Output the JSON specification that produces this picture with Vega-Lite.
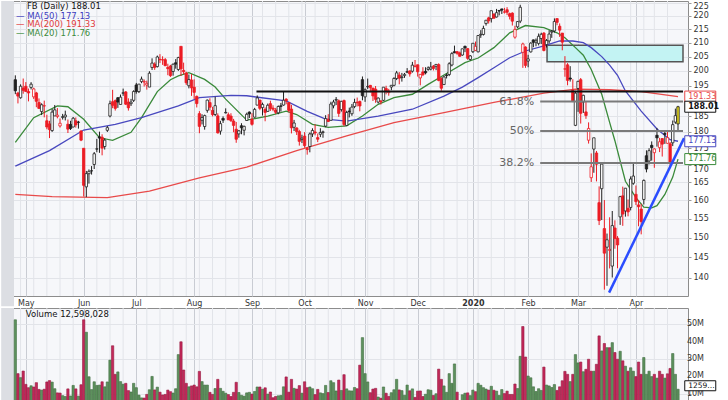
{
"$schema": "https://vega.github.io/schema/vega-lite/v6.json",
"padding": {"left": 0, "top": 0, "right": 0, "bottom": 0},
"background": "#ffffff",
"spacing": -2,
"config": {
  "font": "DejaVu Sans",
  "view": {"stroke": "#8c8c8c", "fill": "#f6f7fa"},
  "axis": {"labelFont": "DejaVu Sans", "labelFontSize": 8, "labelColor": "#333333", "title": null}
},
"datasets": {
"px": [
{"t":-4,"o":196.98,"h":198.48,"l":192.12,"c":193.26,"v":52.7},
{"t":-3,"o":192.5,"h":192.9,"l":189.09,"c":191.49,"v":21.6},
{"t":-2,"o":190.95,"h":195.41,"l":190.65,"c":194.78,"v":19.3},
{"t":-1,"o":194.19,"h":197.39,"l":192.28,"c":193.4,"v":23.1},
{"t":0,"o":194.78,"h":196.18,"l":193.01,"c":193.03,"v":15.4},
{"t":1,"o":193.0,"h":194.0,"l":189.75,"c":192.53,"v":13.5},
{"t":2,"o":194.38,"h":196.16,"l":193.71,"c":195.47,"v":14.6},
{"t":3,"o":191.24,"h":194.28,"l":190.55,"c":193.88,"v":13.9},
{"t":4,"o":192.54,"h":192.9,"l":187.85,"c":189.77,"v":16.4},
{"t":5,"o":189.39,"h":190.72,"l":187.26,"c":187.47,"v":12.5},
{"t":6,"o":186.47,"h":189.12,"l":185.32,"c":188.65,"v":12.1},
{"t":7,"o":188.25,"h":190.0,"l":184.59,"c":188.34,"v":12.6},
{"t":8,"o":183.5,"h":185.43,"l":180.84,"c":181.54,"v":16.8},
{"t":9,"o":182.52,"h":183.49,"l":178.1,"c":180.73,"v":17.6},
{"t":10,"o":180.42,"h":187.28,"l":180.02,"c":186.27,"v":16.7},
{"t":11,"o":185.05,"h":188.58,"l":185.05,"c":186.99,"v":12.9},
{"t":12,"o":184.84,"h":187.58,"l":184.28,"c":185.3,"v":10.5},
{"t":13,"o":181.88,"h":184.23,"l":181.37,"c":182.72,"v":10.4},
{"t":14,"o":184.57,"h":185.7,"l":183.89,"c":184.82,"v":8.9},
{"t":15,"o":184.73,"h":186.74,"l":183.61,"c":185.32,"v":8.4},
{"t":16,"o":182.42,"h":183.9,"l":179.67,"c":180.87,"v":12.8},
{"t":17,"o":182.33,"h":183.5,"l":180.6,"c":181.06,"v":8.7},
{"t":18,"o":181.54,"h":184.71,"l":181.45,"c":184.31,"v":14.8},
{"t":19,"o":183.5,"h":184.56,"l":181.35,"c":182.19,"v":12.8},
{"t":20,"o":183.08,"h":183.48,"l":181.04,"c":183.01,"v":8.6},
{"t":21,"o":180.28,"h":180.54,"l":177.16,"c":177.47,"v":15.2},
{"t":22,"o":175.0,"h":175.04,"l":161.01,"c":164.15,"v":52.7},
{"t":23,"o":163.71,"h":168.28,"l":160.84,"c":167.5,"v":45.5},
{"t":24,"o":167.48,"h":168.72,"l":164.63,"c":168.17,"v":19.8},
{"t":25,"o":168.3,"h":169.7,"l":167.23,"c":168.33,"v":12.4},
{"t":26,"o":170.17,"h":173.87,"l":168.84,"c":173.35,"v":16.9},
{"t":27,"o":174.75,"h":177.86,"l":173.8,"c":174.82,"v":14.8},
{"t":28,"o":178.48,"h":180.09,"l":173.62,"c":178.1,"v":15.0},
{"t":29,"o":178.38,"h":179.27,"l":172.88,"c":175.04,"v":16.9},
{"t":30,"o":175.53,"h":178.03,"l":174.61,"c":177.47,"v":14.0},
{"t":31,"o":180.51,"h":181.84,"l":180.0,"c":181.33,"v":16.8},
{"t":32,"o":185.01,"h":190.0,"l":184.59,"c":189.01,"v":29.4},
{"t":33,"o":189.64,"h":193.59,"l":187.54,"c":188.47,"v":37.7},
{"t":34,"o":190.0,"h":190.38,"l":186.76,"c":187.48,"v":21.2},
{"t":35,"o":190.95,"h":191.16,"l":187.64,"c":189.53,"v":22.6},
{"t":36,"o":188.75,"h":192.0,"l":188.75,"c":191.14,"v":17.0},
{"t":37,"o":192.42,"h":193.98,"l":191.57,"c":192.6,"v":15.5},
{"t":38,"o":192.88,"h":193.14,"l":188.56,"c":188.84,"v":16.0},
{"t":39,"o":189.54,"h":190.76,"l":186.76,"c":187.66,"v":11.8},
{"t":40,"o":189.0,"h":190.57,"l":188.25,"c":189.5,"v":11.0},
{"t":41,"o":190.1,"h":193.44,"l":189.55,"c":193.0,"v":16.0},
{"t":42,"o":195.21,"h":195.9,"l":192.29,"c":193.0,"v":13.5},
{"t":43,"o":193.0,"h":195.5,"l":192.5,"c":195.5,"v":9.2},
{"t":44,"o":196.35,"h":198.05,"l":195.81,"c":197.2,"v":7.6},
{"t":45,"o":196.18,"h":197.07,"l":194.68,"c":196.4,"v":7.5},
{"t":46,"o":195.19,"h":196.67,"l":193.64,"c":195.76,"v":9.6},
{"t":47,"o":194.51,"h":199.89,"l":194.49,"c":199.21,"v":12.3},
{"t":48,"o":201.2,"h":204.39,"l":200.33,"c":202.73,"v":20.0},
{"t":49,"o":202.36,"h":203.0,"l":200.37,"c":201.23,"v":12.2},
{"t":50,"o":201.5,"h":205.37,"l":201.18,"c":204.87,"v":13.8},
{"t":51,"o":204.05,"h":205.87,"l":202.72,"c":203.91,"v":10.9},
{"t":52,"o":203.88,"h":205.11,"l":202.1,"c":203.84,"v":9.3},
{"t":53,"o":203.92,"h":204.49,"l":201.68,"c":201.8,"v":9.6},
{"t":54,"o":201.19,"h":202.5,"l":198.53,"c":200.78,"v":12.1},
{"t":55,"o":201.7,"h":202.1,"l":197.94,"c":198.36,"v":11.2},
{"t":56,"o":199.8,"h":202.59,"l":198.37,"c":202.32,"v":10.4},
{"t":57,"o":202.84,"h":204.13,"l":200.78,"c":202.36,"v":12.9},
{"t":58,"o":200.5,"h":204.94,"l":200.01,"c":204.66,"v":32.6},
{"t":59,"o":208.67,"h":208.7,"l":198.26,"c":200.71,"v":40.0},
{"t":60,"o":200.19,"h":202.88,"l":198.87,"c":199.75,"v":23.7},
{"t":61,"o":199.29,"h":199.72,"l":195.22,"c":195.94,"v":16.0},
{"t":62,"o":194.95,"h":198.76,"l":194.06,"c":197.04,"v":14.0},
{"t":63,"o":196.89,"h":198.88,"l":191.56,"c":194.23,"v":14.5},
{"t":64,"o":194.46,"h":197.11,"l":190.54,"c":192.73,"v":15.0},
{"t":65,"o":191.41,"h":191.66,"l":187.78,"c":189.02,"v":14.0},
{"t":66,"o":185.78,"h":186.59,"l":179.6,"c":181.74,"v":22.9},
{"t":67,"o":183.69,"h":185.59,"l":182.34,"c":184.51,"v":17.0},
{"t":68,"o":181.69,"h":185.46,"l":180.71,"c":185.15,"v":15.0},
{"t":69,"o":186.83,"h":190.36,"l":186.08,"c":190.16,"v":15.0},
{"t":70,"o":189.36,"h":190.78,"l":186.8,"c":187.85,"v":10.8},
{"t":71,"o":186.79,"h":187.97,"l":184.89,"c":185.46,"v":9.6},
{"t":72,"o":185.5,"h":191.28,"l":185.0,"c":188.36,"v":13.0},
{"t":73,"o":185.06,"h":185.87,"l":179.51,"c":179.71,"v":18.3},
{"t":74,"o":180.25,"h":183.5,"l":179.16,"c":182.59,"v":13.1},
{"t":75,"o":184.26,"h":184.91,"l":182.82,"c":183.7,"v":11.4},
{"t":76,"o":186.0,"h":187.49,"l":185.87,"c":186.17,"v":10.3},
{"t":77,"o":185.42,"h":186.13,"l":183.81,"c":183.81,"v":9.5},
{"t":78,"o":185.0,"h":185.9,"l":183.14,"c":183.55,"v":8.4},
{"t":79,"o":183.43,"h":184.11,"l":179.91,"c":182.04,"v":10.8},
{"t":80,"o":180.84,"h":183.13,"l":176.66,"c":177.75,"v":16.6},
{"t":81,"o":179.4,"h":180.58,"l":178.22,"c":180.36,"v":10.7},
{"t":82,"o":181.94,"h":182.73,"l":179.28,"c":181.3,"v":9.1},
{"t":83,"o":180.53,"h":181.94,"l":178.94,"c":181.76,"v":8.6},
{"t":84,"o":183.6,"h":186.08,"l":183.47,"c":185.57,"v":10.5},
{"t":85,"o":186.29,"h":186.49,"l":184.39,"c":185.67,"v":10.8},
{"t":86,"o":184.0,"h":185.93,"l":181.97,"c":182.39,"v":9.8},
{"t":87,"o":184.65,"h":187.64,"l":184.52,"c":187.14,"v":11.3},
{"t":88,"o":188.53,"h":191.7,"l":188.48,"c":190.9,"v":13.9},
{"t":89,"o":190.21,"h":190.21,"l":186.89,"c":187.49,"v":13.9},
{"t":90,"o":187.72,"h":189.34,"l":185.17,"c":188.76,"v":12.6},
{"t":91,"o":187.16,"h":187.8,"l":183.35,"c":186.17,"v":13.4},
{"t":92,"o":186.51,"h":189.04,"l":186.34,"c":188.49,"v":9.8},
{"t":93,"o":189.0,"h":189.97,"l":186.65,"c":187.47,"v":11.0},
{"t":94,"o":187.56,"h":188.48,"l":186.56,"c":187.19,"v":7.7},
{"t":95,"o":186.93,"h":187.6,"l":185.63,"c":186.22,"v":8.4},
{"t":96,"o":186.05,"h":188.42,"l":185.58,"c":188.08,"v":8.8},
{"t":97,"o":188.3,"h":189.24,"l":186.44,"c":188.14,"v":9.0},
{"t":98,"o":188.55,"h":192.95,"l":188.35,"c":190.14,"v":14.0},
{"t":99,"o":190.48,"h":190.79,"l":188.81,"c":189.93,"v":19.7},
{"t":100,"o":189.35,"h":189.43,"l":186.17,"c":186.82,"v":10.9},
{"t":101,"o":187.25,"h":188.61,"l":179.54,"c":181.28,"v":18.3},
{"t":102,"o":181.45,"h":183.78,"l":180.28,"c":182.8,"v":13.1},
{"t":103,"o":181.25,"h":181.4,"l":179.06,"c":180.11,"v":12.7},
{"t":104,"o":180.12,"h":180.67,"l":175.8,"c":177.1,"v":14.7},
{"t":105,"o":177.64,"h":179.13,"l":176.58,"c":178.08,"v":10.3},
{"t":106,"o":178.7,"h":179.94,"l":175.17,"c":175.81,"v":16.9},
{"t":107,"o":174.91,"h":175.34,"l":173.08,"c":174.6,"v":13.5},
{"t":108,"o":175.53,"h":179.83,"l":173.78,"c":179.38,"v":13.9},
{"t":109,"o":179.38,"h":181.14,"l":178.45,"c":180.45,"v":12.9},
{"t":110,"o":180.0,"h":182.39,"l":178.95,"c":179.68,"v":9.5},
{"t":111,"o":178.25,"h":179.5,"l":176.87,"c":177.75,"v":12.5},
{"t":112,"o":179.28,"h":181.15,"l":178.4,"c":179.85,"v":10.5},
{"t":113,"o":179.86,"h":180.42,"l":178.21,"c":180.03,"v":10.1},
{"t":114,"o":181.82,"h":185.28,"l":181.46,"c":184.19,"v":14.8},
{"t":115,"o":183.98,"h":185.61,"l":183.1,"c":183.28,"v":10.7},
{"t":116,"o":183.64,"h":189.64,"l":183.64,"c":188.89,"v":17.5},
{"t":117,"o":188.32,"h":190.26,"l":187.49,"c":189.55,"v":16.4},
{"t":118,"o":190.15,"h":191.19,"l":188.55,"c":190.39,"v":11.6},
{"t":119,"o":189.94,"h":190.38,"l":184.75,"c":185.85,"v":17.9},
{"t":120,"o":187.08,"h":189.94,"l":186.44,"c":189.76,"v":11.9},
{"t":121,"o":190.02,"h":190.35,"l":181.76,"c":182.34,"v":21.0},
{"t":122,"o":182.02,"h":186.71,"l":181.97,"c":186.15,"v":12.8},
{"t":123,"o":186.62,"h":187.71,"l":184.56,"c":186.38,"v":11.7},
{"t":124,"o":185.75,"h":188.9,"l":185.08,"c":187.89,"v":11.6},
{"t":125,"o":188.09,"h":190.62,"l":187.55,"c":189.4,"v":13.6},
{"t":126,"o":189.5,"h":191.01,"l":188.1,"c":189.31,"v":12.9},
{"t":127,"o":189.73,"h":190.0,"l":186.53,"c":188.25,"v":26.5},
{"t":128,"o":197.0,"h":198.09,"l":190.11,"c":191.65,"v":42.4},
{"t":129,"o":191.23,"h":194.05,"l":189.6,"c":193.62,"v":21.6},
{"t":130,"o":194.55,"h":197.37,"l":193.82,"c":194.72,"v":16.8},
{"t":131,"o":195.06,"h":195.23,"l":192.73,"c":194.32,"v":10.6},
{"t":132,"o":194.17,"h":194.21,"l":189.89,"c":191.55,"v":12.7},
{"t":133,"o":193.8,"h":194.85,"l":189.29,"c":190.42,"v":13.1},
{"t":134,"o":189.53,"h":191.05,"l":189.07,"c":190.84,"v":8.1},
{"t":135,"o":189.9,"h":190.13,"l":188.73,"c":189.61,"v":7.4},
{"t":136,"o":190.09,"h":194.43,"l":189.86,"c":194.47,"v":13.9},
{"t":137,"o":194.01,"h":194.94,"l":192.07,"c":193.19,"v":10.3},
{"t":138,"o":192.65,"h":193.89,"l":191.63,"c":193.15,"v":8.5},
{"t":139,"o":194.51,"h":195.19,"l":193.45,"c":195.1,"v":10.6},
{"t":140,"o":195.09,"h":197.83,"l":194.74,"c":197.4,"v":12.3},
{"t":141,"o":197.4,"h":200.0,"l":196.86,"c":199.32,"v":18.3},
{"t":142,"o":198.58,"h":199.59,"l":195.43,"c":197.51,"v":12.2},
{"t":143,"o":197.7,"h":199.32,"l":196.34,"c":197.93,"v":11.8},
{"t":144,"o":198.38,"h":199.3,"l":197.62,"c":198.82,"v":9.1},
{"t":145,"o":199.52,"h":200.97,"l":199.25,"c":199.79,"v":15.0},
{"t":146,"o":200.0,"h":200.15,"l":198.04,"c":198.97,"v":11.7},
{"t":147,"o":199.9,"h":203.14,"l":199.42,"c":202.0,"v":12.8},
{"t":148,"o":201.6,"h":203.8,"l":201.21,"c":201.64,"v":7.9},
{"t":149,"o":202.13,"h":202.18,"l":198.05,"c":199.7,"v":11.5},
{"t":150,"o":197.6,"h":198.93,"l":195.08,"c":198.82,"v":11.6},
{"t":151,"o":199.66,"h":201.29,"l":198.21,"c":198.71,"v":8.4},
{"t":152,"o":199.86,"h":201.28,"l":198.81,"c":199.36,"v":9.7},
{"t":153,"o":200.5,"h":201.57,"l":200.06,"c":201.05,"v":12.3},
{"t":154,"o":200.65,"h":203.14,"l":200.2,"c":201.34,"v":12.0},
{"t":155,"o":201.66,"h":202.05,"l":200.15,"c":200.87,"v":9.0},
{"t":156,"o":201.6,"h":202.37,"l":200.25,"c":202.26,"v":10.0},
{"t":157,"o":202.19,"h":202.65,"l":196.45,"c":196.75,"v":24.2},
{"t":158,"o":197.37,"h":197.84,"l":193.28,"c":194.11,"v":18.3},
{"t":159,"o":195.35,"h":198.39,"l":195.29,"c":197.92,"v":14.5},
{"t":160,"o":198.6,"h":199.12,"l":197.41,"c":198.39,"v":10.8},
{"t":161,"o":198.75,"h":203.02,"l":198.21,"c":202.5,"v":21.6},
{"t":162,"o":202.06,"h":206.57,"l":201.59,"c":206.06,"v":16.0},
{"t":163,"o":206.75,"h":208.93,"l":206.35,"c":206.3,"v":27.2},
{"t":164,"o":206.75,"h":206.99,"l":205.65,"c":206.18,"v":10.9},
{"t":165,"o":206.3,"h":206.79,"l":205.0,"c":205.12,"v":6.0},
{"t":166,"o":205.57,"h":207.82,"l":205.31,"c":207.79,"v":9.4},
{"t":167,"o":208.67,"h":208.93,"l":206.59,"c":208.1,"v":10.3},
{"t":168,"o":207.86,"h":207.9,"l":203.9,"c":204.41,"v":10.5},
{"t":169,"o":204.0,"h":205.56,"l":203.6,"c":205.25,"v":8.9},
{"t":170,"o":206.75,"h":209.79,"l":206.27,"c":209.78,"v":12.1},
{"t":171,"o":207.21,"h":210.4,"l":206.95,"c":208.67,"v":11.2},
{"t":172,"o":206.7,"h":212.78,"l":206.52,"c":212.6,"v":16.0},
{"t":173,"o":212.82,"h":214.58,"l":211.75,"c":213.06,"v":14.9},
{"t":174,"o":213.0,"h":216.24,"l":212.61,"c":215.22,"v":13.5},
{"t":175,"o":217.05,"h":218.38,"l":216.28,"c":218.3,"v":12.7},
{"t":176,"o":219.18,"h":219.59,"l":217.05,"c":218.06,"v":12.1},
{"t":177,"o":218.9,"h":221.91,"l":217.43,"c":221.91,"v":14.3},
{"t":178,"o":220.61,"h":220.89,"l":218.85,"c":219.06,"v":12.0},
{"t":179,"o":219.52,"h":222.6,"l":219.32,"c":221.15,"v":11.5},
{"t":180,"o":222.0,"h":222.2,"l":220.13,"c":221.77,"v":9.0},
{"t":181,"o":222.59,"h":222.63,"l":220.65,"c":222.14,"v":12.4},
{"t":182,"o":221.37,"h":223.0,"l":220.83,"c":221.44,"v":10.1},
{"t":183,"o":222.28,"h":223.28,"l":220.22,"c":221.32,"v":11.5},
{"t":184,"o":220.78,"h":221.18,"l":218.58,"c":219.76,"v":9.6},
{"t":185,"o":220.99,"h":221.3,"l":216.3,"c":217.94,"v":9.6},
{"t":186,"o":212.0,"h":216.2,"l":211.44,"c":214.87,"v":15.6},
{"t":187,"o":215.82,"h":218.0,"l":215.35,"c":217.79,"v":13.0},
{"t":188,"o":217.95,"h":224.2,"l":217.22,"c":223.23,"v":31.6},
{"t":189,"o":206.53,"h":210.0,"l":201.06,"c":209.53,"v":48.8},
{"t":190,"o":208.43,"h":208.69,"l":201.06,"c":201.91,"v":31.2},
{"t":191,"o":203.44,"h":205.64,"l":201.26,"c":204.19,"v":20.2},
{"t":192,"o":206.68,"h":210.15,"l":206.45,"c":209.83,"v":19.2},
{"t":193,"o":211.0,"h":211.15,"l":208.36,"c":210.11,"v":14.0},
{"t":194,"o":210.19,"h":211.53,"l":208.7,"c":210.85,"v":11.3},
{"t":195,"o":209.72,"h":213.35,"l":209.0,"c":212.33,"v":12.9},
{"t":196,"o":211.52,"h":213.64,"l":209.5,"c":213.06,"v":11.9},
{"t":197,"o":213.5,"h":213.87,"l":206.86,"c":207.19,"v":25.4},
{"t":198,"o":209.3,"h":211.31,"l":208.23,"c":210.76,"v":15.0},
{"t":199,"o":210.63,"h":214.54,"l":209.71,"c":213.14,"v":14.5},
{"t":200,"o":213.85,"h":214.65,"l":211.75,"c":214.18,"v":13.6},
{"t":201,"o":214.29,"h":218.98,"l":213.68,"c":217.8,"v":15.3},
{"t":202,"o":218.9,"h":219.06,"l":216.41,"c":217.49,"v":11.9},
{"t":203,"o":216.05,"h":217.09,"l":212.11,"c":214.58,"v":14.0},
{"t":204,"o":213.5,"h":213.5,"l":207.25,"c":210.18,"v":17.5},
{"t":205,"o":200.63,"h":205.16,"l":198.0,"c":200.72,"v":22.9},
{"t":206,"o":202.11,"h":202.71,"l":195.1,"c":196.77,"v":21.2},
{"t":207,"o":197.56,"h":201.65,"l":196.35,"c":197.2,"v":17.0},
{"t":208,"o":193.4,"h":197.14,"l":189.52,"c":189.75,"v":21.2},
{"t":209,"o":182.06,"h":193.23,"l":181.82,"c":192.47,"v":32.6},
{"t":210,"o":194.02,"h":196.6,"l":186.35,"c":196.44,"v":27.8},
{"t":211,"o":196.99,"h":197.57,"l":182.62,"c":185.89,"v":28.3},
{"t":212,"o":189.54,"h":191.93,"l":186.0,"c":191.76,"v":22.7},
{"t":213,"o":186.34,"h":189.88,"l":184.12,"c":185.17,"v":24.1},
{"t":214,"o":177.45,"h":183.0,"l":176.42,"c":181.09,"v":29.9},
{"t":215,"o":166.33,"h":173.45,"l":165.11,"c":169.5,"v":23.0},
{"t":216,"o":174.76,"h":178.19,"l":167.75,"c":178.19,"v":23.0},
{"t":217,"o":173.58,"h":174.19,"l":165.27,"c":170.24,"v":27.0},
{"t":218,"o":159.31,"h":163.85,"l":153.27,"c":154.47,"v":43.4},
{"t":219,"o":163.2,"h":170.28,"l":154.6,"c":170.28,"v":34.7},
{"t":220,"o":152.34,"h":160.03,"l":137.1,"c":146.01,"v":39.0},
{"t":221,"o":147.53,"h":151.04,"l":138.01,"c":149.42,"v":36.6},
{"t":222,"o":146.7,"h":155.34,"l":142.21,"c":146.96,"v":36.6},
{"t":223,"o":142.79,"h":157.03,"l":140.0,"c":153.13,"v":39.5},
{"t":224,"o":152.5,"h":154.52,"l":147.13,"c":149.73,"v":33.8},
{"t":225,"o":149.85,"h":150.38,"l":142.25,"c":148.1,"v":29.9},
{"t":226,"o":155.45,"h":161.2,"l":153.31,"c":160.98,"v":34.5},
{"t":227,"o":161.19,"h":163.78,"l":153.06,"c":156.21,"v":29.0},
{"t":228,"o":157.05,"h":163.4,"l":155.51,"c":163.34,"v":25.9},
{"t":229,"o":157.76,"h":160.19,"l":155.6,"c":156.79,"v":23.0},
{"t":230,"o":158.0,"h":166.7,"l":157.2,"c":165.95,"v":25.0},
{"t":231,"o":164.74,"h":170.4,"l":164.3,"c":166.8,"v":23.0},
{"t":232,"o":161.62,"h":164.1,"l":158.66,"c":159.6,"v":19.9},
{"t":233,"o":158.69,"h":160.0,"l":152.95,"c":158.19,"v":28.3},
{"t":234,"o":157.56,"h":159.0,"l":150.83,"c":154.18,"v":21.2},
{"t":235,"o":160.19,"h":165.82,"l":158.81,"c":165.55,"v":30.9},
{"t":236,"o":172.75,"h":174.38,"l":167.87,"c":168.83,"v":21.2},
{"t":237,"o":171.2,"h":175.0,"l":170.18,"c":174.28,"v":23.0},
{"t":238,"o":175.9,"h":177.08,"l":171.3,"c":175.19,"v":19.9},
{"t":239,"o":173.67,"h":175.0,"l":169.19,"c":174.79,"v":21.2},
{"t":240,"o":178.98,"h":181.25,"l":175.5,"c":178.17,"v":19.0},
{"t":241,"o":175.19,"h":178.17,"l":173.85,"c":176.97,"v":23.0},
{"t":242,"o":177.95,"h":178.05,"l":172.51,"c":176.25,"v":21.2},
{"t":243,"o":179.53,"h":180.3,"l":176.33,"c":179.24,"v":19.0},
{"t":244,"o":176.5,"h":180.59,"l":176.36,"c":178.24,"v":21.5},
{"t":245,"o":176.37,"h":176.9,"l":169.56,"c":170.8,"v":24.6},
{"t":246,"o":176.66,"h":183.59,"l":175.66,"c":182.28,"v":33.2},
{"t":247,"o":183.08,"h":187.4,"l":182.54,"c":185.13,"v":21.2},
{"t":248,"o":182.5,"h":188.3,"l":180.6,"c":188.01,"v":12.6}
],
"ma": [
{"s":"MA(20)","t":-4,"m":176.8},{"s":"MA(20)","t":3,"m":184.5},{"s":"MA(20)","t":12,"m":188.3},{"s":"MA(20)","t":16,"m":188.0},{"s":"MA(20)","t":22,"m":184.0},{"s":"MA(20)","t":28,"m":178.2},{"s":"MA(20)","t":33,"m":177.4},{"s":"MA(20)","t":40,"m":179.9},{"s":"MA(20)","t":44,"m":184.5},{"s":"MA(20)","t":50,"m":193.0},{"s":"MA(20)","t":55,"m":197.0},{"s":"MA(20)","t":58,"m":198.3},{"s":"MA(20)","t":62,"m":199.4},{"s":"MA(20)","t":68,"m":197.1},{"s":"MA(20)","t":72,"m":194.5},{"s":"MA(20)","t":76,"m":190.5},{"s":"MA(20)","t":84,"m":183.7},{"s":"MA(20)","t":92,"m":185.0},{"s":"MA(20)","t":99,"m":186.6},{"s":"MA(20)","t":103,"m":185.5},{"s":"MA(20)","t":109,"m":182.4},{"s":"MA(20)","t":115,"m":181.4},{"s":"MA(20)","t":122,"m":181.9},{"s":"MA(20)","t":128,"m":185.0},{"s":"MA(20)","t":134,"m":188.8},{"s":"MA(20)","t":140,"m":191.0},{"s":"MA(20)","t":147,"m":192.1},{"s":"MA(20)","t":153,"m":195.4},{"s":"MA(20)","t":159,"m":198.6},{"s":"MA(20)","t":167,"m":202.9},{"s":"MA(20)","t":172,"m":204.5},{"s":"MA(20)","t":178,"m":208.2},{"s":"MA(20)","t":184,"m":213.6},{"s":"MA(20)","t":190,"m":216.3},{"s":"MA(20)","t":197,"m":215.5},{"s":"MA(20)","t":202,"m":213.6},{"s":"MA(20)","t":205,"m":211.8},{"s":"MA(20)","t":209,"m":208.2},{"s":"MA(20)","t":212,"m":205.5},{"s":"MA(20)","t":215,"m":200.5},{"s":"MA(20)","t":219,"m":192.1},{"s":"MA(20)","t":222,"m":183.0},{"s":"MA(20)","t":224,"m":177.3},{"s":"MA(20)","t":228,"m":165.3},{"s":"MA(20)","t":232,"m":160.7},{"s":"MA(20)","t":235,"m":158.1},{"s":"MA(20)","t":238,"m":157.9},{"s":"MA(20)","t":240,"m":158.5},{"s":"MA(20)","t":243,"m":161.6},{"s":"MA(20)","t":246,"m":166.5},{"s":"MA(20)","t":248,"m":171.76},
{"s":"MA(50)","t":-4,"m":169.7},{"s":"MA(50)","t":9,"m":174.3},{"s":"MA(50)","t":22,"m":180.6},{"s":"MA(50)","t":34,"m":182.4},{"s":"MA(50)","t":44,"m":184.5},{"s":"MA(50)","t":58,"m":188.3},{"s":"MA(50)","t":66,"m":191.0},{"s":"MA(50)","t":78,"m":191.7},{"s":"MA(50)","t":84,"m":191.6},{"s":"MA(50)","t":99,"m":189.9},{"s":"MA(50)","t":107,"m":186.5},{"s":"MA(50)","t":114,"m":184.0},{"s":"MA(50)","t":122,"m":183.4},{"s":"MA(50)","t":134,"m":185.0},{"s":"MA(50)","t":147,"m":187.2},{"s":"MA(50)","t":159,"m":191.5},{"s":"MA(50)","t":166,"m":194.5},{"s":"MA(50)","t":172,"m":197.7},{"s":"MA(50)","t":178,"m":201.1},{"s":"MA(50)","t":184,"m":204.6},{"s":"MA(50)","t":190,"m":207.0},{"s":"MA(50)","t":197,"m":208.8},{"s":"MA(50)","t":203,"m":210.6},{"s":"MA(50)","t":208,"m":210.6},{"s":"MA(50)","t":212,"m":210.0},{"s":"MA(50)","t":215,"m":208.2},{"s":"MA(50)","t":219,"m":205.0},{"s":"MA(50)","t":222,"m":202.0},{"s":"MA(50)","t":225,"m":198.5},{"s":"MA(50)","t":228,"m":193.2},{"s":"MA(50)","t":234,"m":186.6},{"s":"MA(50)","t":240,"m":180.9},{"s":"MA(50)","t":245,"m":177.6},{"s":"MA(50)","t":248,"m":177.13},
{"s":"MA(200)","t":-4,"m":161.6},{"s":"MA(200)","t":10,"m":161.0},{"s":"MA(200)","t":31,"m":160.7},{"s":"MA(200)","t":47,"m":162.5},{"s":"MA(200)","t":66,"m":166.3},{"s":"MA(200)","t":84,"m":169.4},{"s":"MA(200)","t":103,"m":174.3},{"s":"MA(200)","t":122,"m":178.8},{"s":"MA(200)","t":140,"m":182.9},{"s":"MA(200)","t":159,"m":186.1},{"s":"MA(200)","t":178,"m":189.4},{"s":"MA(200)","t":197,"m":192.5},{"s":"MA(200)","t":209,"m":193.8},{"s":"MA(200)","t":222,"m":193.6},{"s":"MA(200)","t":234,"m":193.0},{"s":"MA(200)","t":248,"m":191.33}
],
"weeks": [
{"t":-2},{"t":3},{"t":8},{"t":13},{"t":18},{"t":27},{"t":32},{"t":37},{"t":46},{"t":51},{"t":56},{"t":61},{"t":66},{"t":71},{"t":76},{"t":81},{"t":90},{"t":95},{"t":100},{"t":105},{"t":110},{"t":115},{"t":120},{"t":125},{"t":130},{"t":135},{"t":140},{"t":145},{"t":154},{"t":159},{"t":164},{"t":168},{"t":172},{"t":177},{"t":182},{"t":186},{"t":196},{"t":201},{"t":205},{"t":215},{"t":220},{"t":225},{"t":230},{"t":235},{"t":239},{"t":244}
],
"vt": [
{"v":10,"lab":"10M"},{"v":20,"lab":"20M"},{"v":30,"lab":"30M"},{"v":40,"lab":"40M"},{"v":50,"lab":"50M"}
],
"fib": [
{"lvl":"61.8%","p":189.7},{"lvl":"50%","p":180.3},{"lvl":"38.2%","p":170.6}
],
"tags": [
{"s":"MA(200)","p":191.33},{"s":"FB","p":188.01},{"s":"MA(50)","p":177.13},{"s":"MA(20)","p":171.76}
]
},
"vconcat": [
{
"width": 679,
"height": 295,
"layer": [
{
"data": {"name": "weeks"},
"mark": {"type": "rule", "stroke": "#e2e4e9", "strokeWidth": 1},
"encoding": {
"x": {"field": "t", "type": "quantitative",
 "scale": {"domain": [-4.5, 249.9], "nice": false, "zero": false},
 "axis": {"values": [0,22,42,64,86,106,129,149,170,191,210,232],
  "labelExpr": "datum.value == 0 ? 'May' : datum.value == 22 ? 'Jun' : datum.value == 42 ? 'Jul' : datum.value == 64 ? 'Aug' : datum.value == 86 ? 'Sep' : datum.value == 106 ? 'Oct' : datum.value == 129 ? 'Nov' : datum.value == 149 ? 'Dec' : datum.value == 170 ? '2020' : datum.value == 191 ? 'Feb' : datum.value == 210 ? 'Mar' : 'Apr'",
  "labelFontWeight": {"condition": {"test": "datum.value == 170", "value": "bold"}, "value": "normal"},
  "grid": true, "gridColor": "#c9ccd3",
  "ticks": false, "tickSize": 0, "domain": false, "labelPadding": 7, "labelBaseline": "middle",
  "labelOverlap": false, "labelFlush": false, "labelBound": false}}
}
},
{
"data": {"values": [{}]},
"mark": {"type": "rect", "fill": "#dcdee3"},
"encoding": {
"x": {"datum": -9.37, "type": "quantitative"},
"x2": {"datum": -4.5},
"y": {"datum": 225.66, "type": "quantitative"},
"y2": {"datum": 133.2}
}
},
{
"data": {"values": [{}]},
"mark": {"type": "rect", "fill": "#c3f3f3", "stroke": "#555555", "strokeWidth": 1.5},
"encoding": {
"x": {"datum": 198.2, "type": "quantitative"},
"x2": {"datum": 249.9},
"y": {"datum": 209.1, "type": "quantitative",
 "scale": {"type": "log", "domain": [135.6, 225.66], "nice": false, "zero": false},
 "axis": {"orient": "right", "values": [140,145,150,155,160,165,170,175,180,185,195,200,205,210,215,220,225],
  "grid": true, "gridColor": "#e2e4e9", "domain": false, "ticks": true, "tickSize": 3, "tickColor": "#9a9a9a",
  "labelPadding": 2, "labelOverlap": false, "labelFlush": false,
  "labelBaseline": {"condition": {"test": "datum.value >= 225 || datum.value == 170", "value": "top"}, "value": "middle"}}},
"y2": {"datum": 203.2}
}
},
{
"data": {"name": "ma"},
"mark": {"type": "line", "strokeWidth": 1.3},
"encoding": {
"x": {"field": "t", "type": "quantitative"},
"y": {"field": "m", "type": "quantitative"},
"color": {"field": "s", "type": "nominal", "scale": {"domain": ["MA(20)","MA(50)","MA(200)","FB"], "range": ["#3a8a3a","#4848bf","#e84a4a","#111111"]}, "legend": null}
}
},
{
"data": {"name": "px"},
"transform": [{"window": [{"op": "lag", "field": "c", "as": "pc"}], "sort": [{"field": "t"}]}],
"mark": {"type": "rule", "strokeWidth": 1},
"encoding": {
"x": {"field": "t", "type": "quantitative"},
"y": {"field": "l", "type": "quantitative"},
"y2": {"field": "h"},
"stroke": {"condition": {"test": "datum.c >= datum.pc", "value": "#1e1e1e"}, "value": "#ec1c24"}
}
},
{
"data": {"name": "px"},
"transform": [{"window": [{"op": "lag", "field": "c", "as": "pc"}], "sort": [{"field": "t"}]}],
"mark": {"type": "bar", "size": 2.4, "strokeWidth": 0.8},
"encoding": {
"x": {"field": "t", "type": "quantitative"},
"y": {"field": "o", "type": "quantitative"},
"y2": {"field": "c"},
"fill": {"condition": [{"test": "datum.t == 248", "value": "#efe01e"}, {"test": "datum.c >= datum.o", "value": "#ffffff"}, {"test": "datum.c >= datum.pc", "value": "#1e1e1e"}], "value": "#ec1c24"},
"stroke": {"condition": {"test": "datum.c >= datum.pc", "value": "#1e1e1e"}, "value": "#ec1c24"}
}
},
{
"data": {"values": [{}]},
"mark": {"type": "rule", "stroke": "#111111", "strokeWidth": 2},
"encoding": {
"x": {"datum": 87.7, "type": "quantitative"},
"x2": {"datum": 249.9},
"y": {"datum": 193.0, "type": "quantitative"}
}
},
{
"data": {"name": "fib"},
"mark": {"type": "rule", "stroke": "#7a7a7a", "strokeWidth": 2},
"encoding": {
"x": {"datum": 195.6, "type": "quantitative"},
"x2": {"datum": 249.9},
"y": {"field": "p", "type": "quantitative"}
}
},
{
"data": {"name": "fib"},
"mark": {"type": "text", "align": "right", "baseline": "middle", "fontSize": 11, "color": "#666666"},
"encoding": {
"x": {"datum": 193.3, "type": "quantitative"},
"y": {"field": "p", "type": "quantitative"},
"text": {"field": "lvl"}
}
},
{
"data": {"values": [{}]},
"mark": {"type": "rule", "stroke": "#2b4dff", "strokeWidth": 2.5},
"encoding": {
"x": {"datum": 221.8, "type": "quantitative"},
"y": {"datum": 136.4, "type": "quantitative"},
"x2": {"datum": 250.3},
"y2": {"datum": 178.1}
}
},
{
"data": {"name": "tags"},
"mark": {"type": "tick", "orient": "horizontal", "size": 31, "thickness": 11, "fill": "#ffffff", "strokeWidth": 1, "opacity": 1, "fillOpacity": 1},
"encoding": {
"x": {"datum": 256.46, "type": "quantitative"},
"y": {"field": "p", "type": "quantitative"},
"stroke": {"field": "s", "type": "nominal", "scale": {"domain": ["MA(20)","MA(50)","MA(200)","FB"], "range": ["#3a8a3a","#4848bf","#e84a4a","#111111"]}, "legend": null}
}
},
{
"data": {"name": "tags"},
"transform": [{"filter": "datum.s != 'FB'"}],
"mark": {"type": "text", "align": "left", "baseline": "middle", "fontSize": 8},
"encoding": {
"x": {"datum": 251.9, "type": "quantitative"},
"y": {"field": "p", "type": "quantitative"},
"text": {"field": "p", "type": "quantitative", "format": ".2f"},
"color": {"field": "s", "type": "nominal", "scale": {"domain": ["MA(20)","MA(50)","MA(200)","FB"], "range": ["#3a8a3a","#4848bf","#e84a4a","#111111"]}, "legend": null}
}
},
{
"data": {"name": "tags"},
"transform": [{"filter": "datum.s == 'FB'"}],
"mark": {"type": "text", "align": "left", "baseline": "middle", "fontSize": 8, "fontWeight": "bold", "color": "#111111"},
"encoding": {
"x": {"datum": 251.9, "type": "quantitative"},
"y": {"field": "p", "type": "quantitative"},
"text": {"field": "p", "type": "quantitative", "format": ".2f"}
}
},
{
"data": {"values": [{}]},
"mark": {"type": "text", "align": "left", "baseline": "middle", "fontSize": 8.5, "color": "#111111"},
"encoding": {"x": {"datum": 0.4, "type": "quantitative"}, "y": {"datum": 223.7, "type": "quantitative"}, "text": {"value": "FB (Daily) 188.01"}}
},
{
"data": {"values": [{}]},
"mark": {"type": "text", "align": "left", "baseline": "middle", "fontSize": 8.5, "color": "#3c3cc0"},
"encoding": {"x": {"datum": -3.75, "type": "quantitative"}, "y": {"datum": 220.08, "type": "quantitative"}, "text": {"value": "— MA(50) 177.13"}}
},
{
"data": {"values": [{}]},
"mark": {"type": "text", "align": "left", "baseline": "middle", "fontSize": 8.5, "color": "#e03a3a"},
"encoding": {"x": {"datum": -3.75, "type": "quantitative"}, "y": {"datum": 216.69, "type": "quantitative"}, "text": {"value": "— MA(200) 191.33"}}
},
{
"data": {"values": [{}]},
"mark": {"type": "text", "align": "left", "baseline": "middle", "fontSize": 8.5, "color": "#3a8a3a"},
"encoding": {"x": {"datum": -3.75, "type": "quantitative"}, "y": {"datum": 213.35, "type": "quantitative"}, "text": {"value": "— MA(20) 171.76"}}
}
]
},
{
"width": 679,
"height": 93,
"layer": [
{
"data": {"name": "weeks"},
"mark": {"type": "rule", "stroke": "#e2e4e9", "strokeWidth": 1},
"encoding": {
"x": {"field": "t", "type": "quantitative",
 "scale": {"domain": [-4.5, 249.9], "nice": false, "zero": false},
 "axis": {"values": [0,22,42,64,86,106,129,149,170,191,210,232],
  "labels": false, "ticks": false, "domain": false, "grid": true, "gridColor": "#c9ccd3"}}
}
},
{
"data": {"values": [{}]},
"mark": {"type": "rect", "fill": "#dcdee3"},
"encoding": {
"x": {"datum": -9.37, "type": "quantitative"},
"x2": {"datum": -4.5},
"y": {"datum": 59.5, "type": "quantitative"},
"y2": {"datum": 5.8}
}
},
{
"data": {"name": "px"},
"transform": [{"window": [{"op": "lag", "field": "c", "as": "pc"}], "sort": [{"field": "t"}]}],
"mark": {"type": "bar", "size": 2.3, "strokeWidth": 0.6, "clip": true},
"encoding": {
"x": {"field": "t", "type": "quantitative"},
"y": {"field": "v", "type": "quantitative",
 "scale": {"domain": [5.8, 59.5], "nice": false, "zero": false},
 "axis": {"orient": "right", "values": [10,20,30,40,50], "labels": false,
  "grid": true, "gridColor": "#e2e4e9", "domain": false, "tickSize": 3, "tickColor": "#9a9a9a"}},
"y2": {"datum": 0},
"fill": {"condition": {"test": "datum.c >= datum.pc", "value": "#5d915d"}, "value": "#c4285a"},
"stroke": {"condition": {"test": "datum.c >= datum.pc", "value": "#3f6d3f"}, "value": "#951a40"}
}
},
{
"data": {"name": "vt"},
"mark": {"type": "text", "align": "left", "baseline": "middle", "fontSize": 8, "color": "#333333"},
"encoding": {"x": {"datum": 251.4, "type": "quantitative"}, "y": {"field": "v", "type": "quantitative"}, "text": {"field": "lab"}}
},
{
"data": {"values": [{}]},
"mark": {"type": "text", "align": "left", "baseline": "middle", "fontSize": 8.5, "color": "#111111"},
"encoding": {"x": {"datum": 0, "type": "quantitative"}, "y": {"datum": 56.2, "type": "quantitative"}, "text": {"value": "Volume 12,598,028"}}
},
{
"data": {"values": [{}]},
"mark": {"type": "tick", "orient": "horizontal", "size": 31, "thickness": 10, "fill": "#ffffff", "stroke": "#111111", "strokeWidth": 1, "opacity": 1, "fillOpacity": 1},
"encoding": {"x": {"datum": 256.46, "type": "quantitative"}, "y": {"datum": 14.6, "type": "quantitative"}}
},
{
"data": {"values": [{}]},
"mark": {"type": "text", "align": "left", "baseline": "middle", "fontSize": 7.5, "color": "#111111", "limit": 30},
"encoding": {"x": {"datum": 251.9, "type": "quantitative"}, "y": {"datum": 14.6, "type": "quantitative"}, "text": {"value": "12598028"}}
}
]
}
]
}
